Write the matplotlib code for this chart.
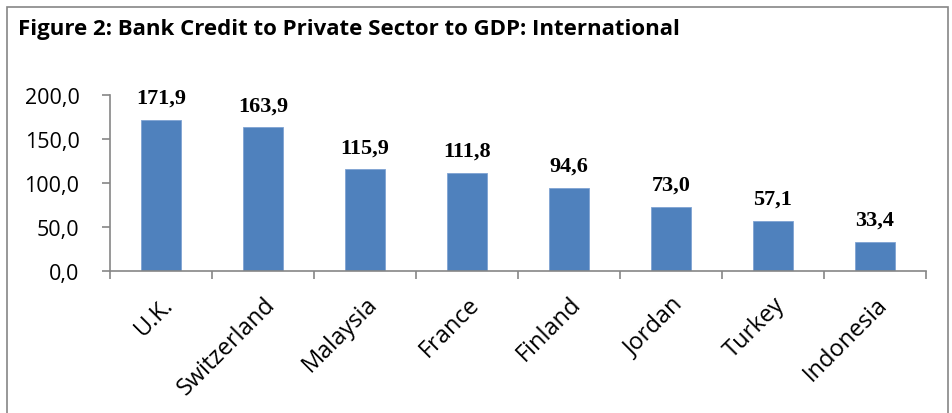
import matplotlib.pyplot as plt
from matplotlib.patches import Rectangle
from matplotlib.ticker import FuncFormatter

countries = ['U.K.', 'Switzerland', 'Malaysia', 'France', 'Finland', 'Jordan', 'Turkey', 'Indonesia']
credit_gdp = [171.9, 163.9, 115.9, 111.8, 94.6, 73.0, 57.1, 33.4]
y_ticks = [0, 50, 100, 150, 200]

grey = '#868686'

fig = plt.figure(figsize=(9.53, 4.14), dpi=100)
ax = fig.add_axes([110 / 953, 1 - 272 / 414, (926 - 110) / 953, (272 - 96) / 414])

x = range(len(countries))
ax.bar(x, credit_gdp, width=0.4, color='#4F81BD', edgecolor='#7FA3D3', linewidth=0.6)

for i, v in enumerate(credit_gdp):
    ax.annotate(f'{v:.1f}'.replace('.', ','), (i, v), xytext=(0, 12), textcoords='offset points',
                ha='center', va='baseline', fontsize=16, fontweight='bold', family='Liberation Serif')

ax.set_xlim(-0.5, len(countries) - 0.5)
ax.set_ylim(0, 200)
ax.set_yticks(y_ticks)
ax.yaxis.set_major_formatter(FuncFormatter(lambda v, p: f'{v:.1f}'.replace('.', ',')))

# category ticks sit between the bars
ax.set_xticks([i - 0.5 for i in range(len(countries) + 1)])
ax.set_xticklabels([])
ax.set_xticks(list(x), minor=True)
ax.set_xticklabels(countries, minor=True, rotation=45, ha='right', rotation_mode='anchor',
                   fontsize=17, family='Open Sans')
ax.tick_params(axis='x', which='minor', length=0, pad=15)
ax.tick_params(axis='x', which='major', length=6, color=grey, width=1.2)
ax.tick_params(axis='y', length=6, color=grey, width=1.2, labelsize=15.5, pad=16)
for lab in ax.get_yticklabels():
    lab.set_family('Open Sans')

for s in ['top', 'right']:
    ax.spines[s].set_visible(False)
for s in ['left', 'bottom']:
    ax.spines[s].set_color(grey)
    ax.spines[s].set_linewidth(1.2)

fig.text(18 / 953, 1 - 30 / 414, 'Figure 2: Bank Credit to Private Sector to GDP: International',
         fontsize=16, fontweight='bold', family='Open Sans', va='center', ha='left')

fig.patches.append(Rectangle((7 / 953, -0.02), (948 - 7) / 953, 1.02 - 8 / 414,
                             transform=fig.transFigure, fill=False, edgecolor=grey, linewidth=1.2))

fig.savefig('out.png', dpi=100)
